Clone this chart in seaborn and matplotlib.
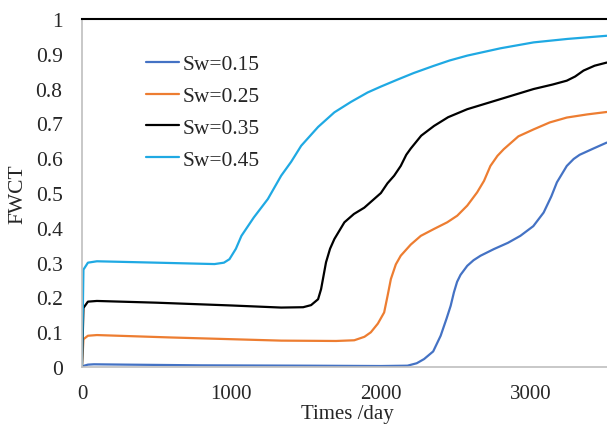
import numpy as np
import pandas as pd
import matplotlib
matplotlib.use("Agg")
import matplotlib.pyplot as plt
import seaborn as sns

labels = ["Sw=0.15", "Sw=0.25", "Sw=0.35", "Sw=0.45"]
colors = ["#4472C4", "#ED7D31", "#000000", "#1FA9E3"]

x_015 = [0, 15, 40, 80, 300, 800, 1500, 2000, 2178, 2240, 2289, 2350, 2400, 2440, 2467, 2489, 2510, 2533, 2578, 2620, 2667, 2756, 2850, 2933, 3020, 3089, 3140, 3178, 3244, 3290, 3330, 3422, 3511]
y_015 = [0, 0.004, 0.007, 0.008, 0.007, 0.005, 0.004, 0.003, 0.004, 0.011, 0.023, 0.045, 0.09, 0.14, 0.176, 0.215, 0.245, 0.265, 0.291, 0.307, 0.32, 0.339, 0.357, 0.377, 0.405, 0.444, 0.49, 0.531, 0.578, 0.598, 0.61, 0.628, 0.645]

x_025 = [0, 10, 40, 100, 600, 1333, 1700, 1822, 1890, 1933, 1980, 2022, 2045, 2067, 2100, 2133, 2200, 2267, 2356, 2444, 2511, 2578, 2644, 2690, 2733, 2780, 2822, 2920, 3022, 3130, 3244, 3380, 3511]
y_025 = [0, 0.08, 0.09, 0.092, 0.085, 0.076, 0.075, 0.077, 0.087, 0.1, 0.125, 0.157, 0.205, 0.253, 0.295, 0.32, 0.352, 0.377, 0.397, 0.416, 0.435, 0.464, 0.502, 0.535, 0.578, 0.607, 0.626, 0.663, 0.683, 0.703, 0.717, 0.726, 0.733]

x_035 = [0, 10, 40, 100, 500, 1000, 1333, 1480, 1533, 1580, 1600, 1633, 1660, 1689, 1756, 1820, 1889, 2000, 2044, 2089, 2133, 2170, 2200, 2270, 2356, 2450, 2578, 2800, 3022, 3150, 3244, 3300, 3356, 3430, 3511]
y_035 = [0, 0.17, 0.188, 0.19, 0.185, 0.177, 0.171, 0.172, 0.178, 0.195, 0.224, 0.301, 0.34, 0.368, 0.416, 0.44, 0.458, 0.5, 0.528, 0.55, 0.578, 0.61, 0.628, 0.665, 0.693, 0.718, 0.741, 0.77, 0.799, 0.812, 0.823, 0.835, 0.852, 0.866, 0.875]

x_045 = [0, 10, 40, 100, 500, 887, 950, 987, 1030, 1067, 1150, 1244, 1333, 1400, 1467, 1580, 1689, 1800, 1911, 2000, 2111, 2220, 2350, 2460, 2578, 2800, 3022, 3250, 3511]
y_045 = [0, 0.28, 0.3, 0.304, 0.3, 0.296, 0.3, 0.31, 0.34, 0.377, 0.43, 0.483, 0.55, 0.59, 0.636, 0.69, 0.732, 0.762, 0.789, 0.806, 0.826, 0.845, 0.865, 0.881, 0.895, 0.916, 0.933, 0.943, 0.952]

frames = []
for lab, xs, ys in zip(labels, [x_015, x_025, x_035, x_045], [y_015, y_025, y_035, y_045]):
    frames.append(pd.DataFrame({"t": xs, "v": ys, "s": lab}))
df = pd.concat(frames, ignore_index=True)

sns.set_style("white")
plt.rcParams["font.family"] = ["Liberation Serif", "DejaVu Serif"]

fig = plt.figure(figsize=(6.07, 4.27), dpi=100)
ax = fig.add_axes([0.135, 0.138, 0.865, 0.815])
sns.lineplot(data=df, x="t", y="v", hue="s", palette=dict(zip(labels, colors)),
             hue_order=labels, linewidth=1.6, ax=ax, sort=False, estimator=None)

ax.set_xlim(0, 3513)
ax.set_ylim(0, 1)
ax.set_xticks([0, 1000, 2000, 3000])
ax.set_yticks(np.arange(0, 1.01, 0.1))
ax.set_yticklabels(["0", "0.1", "0.2", "0.3", "0.4", "0.5", "0.6", "0.7", "0.8", "0.9", "1"])
ax.tick_params(axis="y", length=0, labelsize=15.5, pad=14)
ax.tick_params(axis="x", length=0, labelsize=15, pad=12)
ax.set_xlabel("Times /day", fontsize=15)
ax.xaxis.set_label_coords(0.505, -0.105)
ax.xaxis.label.set_va("top")
ax.set_ylabel("FWCT", fontsize=15.5, labelpad=6)

for s in ["left", "bottom"]:
    ax.spines[s].set_color("#BFBFBF")
    ax.spines[s].set_linewidth(1.2)
ax.spines["top"].set_color("#000000")
ax.spines["top"].set_linewidth(1.5)
ax.spines["right"].set_visible(False)

leg = ax.legend(loc="upper left", bbox_to_anchor=(0.085, 0.955), frameon=False,
                fontsize=15.5, handlelength=1.55, handletextpad=0.15, labelspacing=0.55)

fig.savefig("out.png", dpi=100)
